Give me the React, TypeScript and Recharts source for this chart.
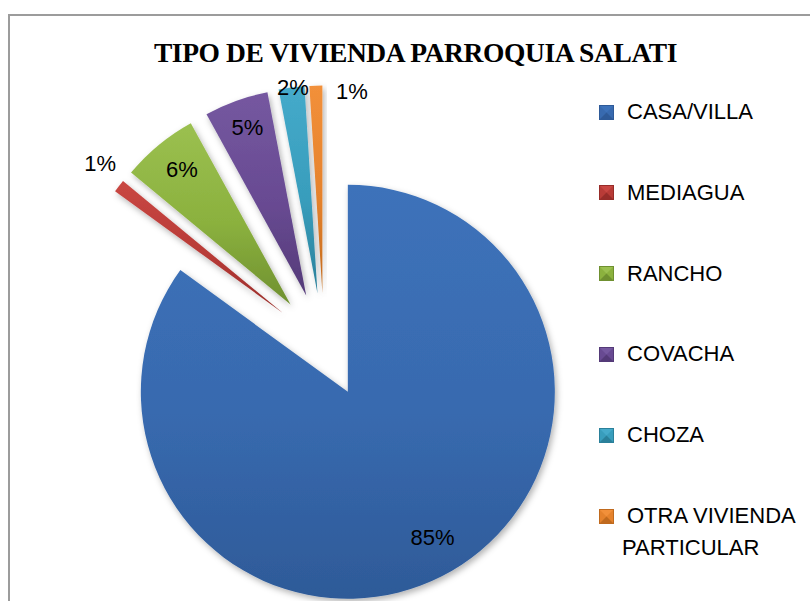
import React from 'react';
import { PieChart, Pie, Cell, Legend } from 'recharts';

const names = ['CASA/VILLA', 'MEDIAGUA', 'RANCHO', 'COVACHA', 'CHOZA', 'OTRA VIVIENDA PARTICULAR'];
const values = [85, 1, 6, 5, 2, 1];
const legendLines = [['CASA/VILLA'], ['MEDIAGUA'], ['RANCHO'], ['COVACHA'], ['CHOZA'], ['OTRA VIVIENDA', 'PARTICULAR']];

const colors = ['#386AAF', '#B83B37', '#8BB13E', '#684A92', '#389DBC', '#E5822C'];
const lightColors = ['#3D72BA', '#C94743', '#9BC050', '#7558A0', '#45AACA', '#F2903A'];
const darkColors = ['#2E5A98', '#972C29', '#6F9030', '#543A78', '#2A809A', '#C06A1E'];

// label placement relative to each slice: radius factor and angular shift (deg)
const labelLayout = [
  { r: 0.816, da: 3.1 },
  { r: 1.14, da: -1.6 },
  { r: 0.836, da: -0.7 },
  { r: 0.86, da: -0.5 },
  { r: 1.0, da: -0.4 },
  { r: 0.98, da: -10.2 },
];

const data = names.map((name, i) => ({ name, value: values[i] }));
const total = values.reduce((a, b) => a + b, 0);

const CENTER = { x: 324, y: 345 };
const RADIUS = 207;
const EXPLODE = 52.5;
const RAD = Math.PI / 180;

const midAngles = values.map((v, i) => {
  const before = values.slice(0, i).reduce((a, b) => a + b, 0);
  const frac = (before + v / 2) / total;
  return 90 - 360 * frac;
});

const makeLabel = (idx: number) => (props: any) => {
  if (props.index !== idx) return null;
  const { cx, cy, midAngle, outerRadius, percent } = props;
  const L = labelLayout[idx];
  const a = (midAngle + L.da) * RAD;
  const x = cx + outerRadius * L.r * Math.cos(a);
  const y = cy - outerRadius * L.r * Math.sin(a);
  return (
    <text
      x={x}
      y={y}
      textAnchor="middle"
      dominantBaseline="central"
      fontFamily="Liberation Sans, Arial, sans-serif"
      fontSize={22}
      fill="#000"
    >
      {`${Math.round(percent * 100)}%`}
    </text>
  );
};

const LegendSquare = ({ i }: { i: number }) => (
  <svg width={15} height={15} style={{ position: 'absolute', left: 0, top: -7.5 }}>
    <rect x={0} y={0} width={15} height={15} fill={colors[i]} />
    <polygon points="0,0 15,0 7.5,7.5" fill={lightColors[i]} />
    <polygon points="0,15 15,15 7.5,7.5" fill={darkColors[i]} />
    <rect x={0.5} y={0.5} width={14} height={14} fill="none" stroke={darkColors[i]} strokeWidth={1} />
  </svg>
);

const renderLegend = () => (
  <div style={{ position: 'relative', width: 215, height: 480 }}>
    {legendLines.map((lines, i) => (
      <div key={i} style={{ position: 'absolute', left: 0, top: 12 + i * 80.8 }}>
        <LegendSquare i={i} />
        {lines.map((ln, j) => (
          <div
            key={j}
            style={{
              position: 'absolute',
              left: j === 0 ? 28 : 23,
              top: -13 + j * 32,
              fontFamily: 'Liberation Sans, Arial, sans-serif',
              fontSize: 22,
              lineHeight: '26px',
              whiteSpace: 'nowrap',
              color: '#000',
            }}
          >
            {ln}
          </div>
        ))}
      </div>
    ))}
  </div>
);

export default function App() {
  return (
    <div style={{ position: 'absolute', left: 0, top: 0, width: 810, height: 601, overflow: 'hidden', background: '#fff' }}>
      <div
        style={{
          position: 'absolute',
          left: 8,
          top: 14,
          width: 850,
          height: 700,
          borderLeft: '2px solid #9c9c9c',
          borderTop: '2px solid #9c9c9c',
        }}
      />
      <div
        style={{
          position: 'absolute',
          left: 0,
          top: 37,
          width: 831,
          textAlign: 'center',
          fontFamily: 'Liberation Serif, Times New Roman, serif',
          fontWeight: 'bold',
          fontSize: 27.5,
          lineHeight: '32px',
          letterSpacing: '-0.4px',
          color: '#000',
          whiteSpace: 'nowrap',
        }}
      >
        TIPO DE VIVIENDA PARROQUIA SALATI
      </div>
      <div style={{ position: 'absolute', left: 0, top: 0 }}>
        <PieChart width={810} height={601} margin={{ top: 0, right: 0, bottom: 0, left: 0 }}>
          <defs>
            <filter id="sliceShadow" x="-30%" y="-30%" width="160%" height="160%">
              <feDropShadow dx="2" dy="3" stdDeviation="3" floodColor="#000" floodOpacity="0.3" />
            </filter>
            {colors.map((c, i) => (
              <linearGradient key={i} id={`grad${i}`} x1="0" y1="0" x2="0" y2="1">
                <stop offset="0%" stopColor={lightColors[i]} />
                <stop offset="55%" stopColor={c} />
                <stop offset="100%" stopColor={darkColors[i]} />
              </linearGradient>
            ))}
          </defs>
          {values.map((_, idx) => {
            const m = midAngles[idx] * RAD;
            const cx = CENTER.x + EXPLODE * Math.cos(m);
            const cy = CENTER.y - EXPLODE * Math.sin(m);
            return (
              <Pie
                key={idx}
                data={data}
                dataKey="value"
                nameKey="name"
                cx={cx}
                cy={cy}
                outerRadius={RADIUS}
                innerRadius={0}
                startAngle={90}
                endAngle={-270}
                stroke="none"
                label={makeLabel(idx)}
                labelLine={false}
                isAnimationActive={false}
                legendType="none"
              >
                {data.map((_, j) => (
                  <Cell
                    key={j}
                    fill={j === idx ? `url(#grad${j})` : 'none'}
                    stroke="none"
                    filter={j === idx ? 'url(#sliceShadow)' : undefined}
                  />
                ))}
              </Pie>
            );
          })}
          <Legend
            layout="vertical"
            verticalAlign="top"
            align="right"
            content={renderLegend}
            wrapperStyle={{ position: 'absolute', left: 599, top: 100, width: 215 }}
          />
        </PieChart>
      </div>
    </div>
  );
}
